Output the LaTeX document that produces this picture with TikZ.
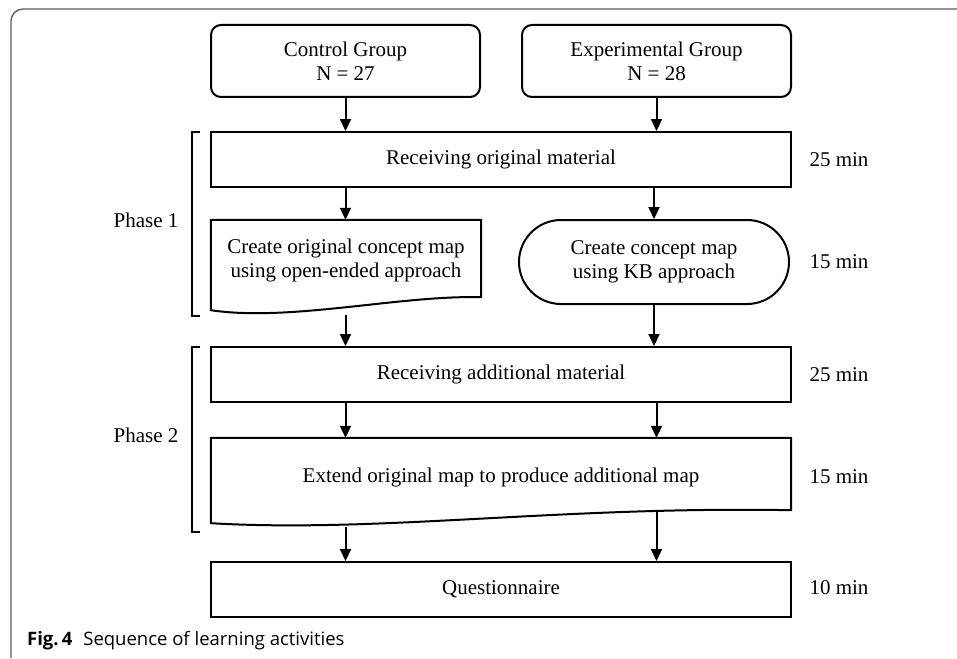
\documentclass[tikz,border=0pt]{standalone}
\usepackage{fontspec}
\setmainfont{Liberation Serif}
\newfontfamily\capfont{Open Sans}
\usetikzlibrary{arrows.meta,shapes.misc}
\begin{document}
\begin{tikzpicture}[x=1pt,y=-1pt,
  txt/.style={font=\fontsize{21}{24}\selectfont, align=center, inner sep=0pt},
  box/.style={txt, draw, line width=2pt, rectangle},
  grp/.style={box, rounded corners=10pt, minimum width=269pt, minimum height=72pt},
  wide/.style={box, minimum width=580pt, minimum height=55pt},
  arr/.style={line width=2pt, -{Triangle[length=12pt,width=11pt]}},
  shp/.style={line width=2pt},
  brk/.style={line width=1.6pt},
  lbl/.style={txt}]
\useasboundingbox (0,0) rectangle (957,658);
\draw[line width=1.3pt, black!65, rounded corners=12pt] (957,9) -- (11,9) -- (11,658);

\node[grp] (ctrl) at (345.5,61) {Control Group\\N = 27};
\node[grp] (expg) at (656.5,61) {Experimental Group\\N = 28};

\node[wide] (recv1) at (501,159.5) {Receiving original material};

% document shape (control)
\node[txt, minimum width=270pt, minimum height=77pt] (doc1) at (346,258.5) {};
\draw[shp] (doc1.south west) -- ++(0,13) .. controls (290,322) and (400,295) .. (doc1.south east) -- (doc1.north east) -- (doc1.north west) -- cycle;
\node[txt] (doc1t) at (346,260) {Create original concept map\\using open-ended approach};
\coordinate (doc1b) at (345.5,314.5);

\node[txt, draw, line width=2pt, rounded rectangle, minimum width=270pt, minimum height=84pt] (kb) at (654,262) {Create concept map\\using KB approach};

\node[wide] (recv2) at (501,374.5) {Receiving additional material};

% document shape (extend)
\node[txt, minimum width=580pt, minimum height=72pt] (ext) at (501,474) {};
\draw[shp] (ext.south west) -- ++(0,13) .. controls (380,533) and (560,506) .. (ext.south east) -- (ext.north east) -- (ext.north west) -- cycle;
\node[txt] (extt) at (501,477) {Extend original map to produce additional map};
\coordinate (extb) at (345.5,527);

\node[wide] (quest) at (501,589.5) {Questionnaire};

% arrows
\draw[arr] (ctrl.south) -- (ctrl.south |- recv1.north);
\draw[arr] (expg.south) -- (expg.south |- recv1.north);
\draw[arr] (recv1.south -| ctrl.south) -- (doc1.north -| ctrl.south);
\draw[arr] (recv1.south -| kb.north) -- (kb.north);
\draw[arr] (doc1b) -- (doc1b |- recv2.north);
\draw[arr] (kb.south) -- (kb.south |- recv2.north);
\draw[arr] (recv2.south -| ctrl.south) -- (ext.north -| ctrl.south);
\draw[arr] (recv2.south -| expg.south) -- (ext.north -| expg.south);
\draw[arr] (extb) -- (extb |- quest.north);
\draw[arr] (ext.south -| expg.south) -- (quest.north -| expg.south);

% durations
\node[lbl] (t1) at (839,160) {25 min};
\node[lbl] (t2) at (839,262) {15 min};
\node[lbl] (t3) at (839,375) {25 min};
\node[lbl] (t4) at (839,477) {15 min};
\node[lbl] (t5) at (839,588) {10 min};

% phases
\draw[brk] (200,132) -- (192,132) -- (192,316) -- (200,316);
\draw[brk] (200,347) -- (192,347) -- (192,532) -- (200,532);
\node[lbl] (p1) at (146,220) {Phase 1};
\node[lbl] (p2) at (146,435) {Phase 2};

\node[anchor=base west, inner sep=0pt, font=\capfont\fontsize{18.5}{22}\selectfont] (cap) at (27,645) {\textbf{Fig.\,4}\hspace{11pt}Sequence of learning activities};
\end{tikzpicture}
\end{document}
